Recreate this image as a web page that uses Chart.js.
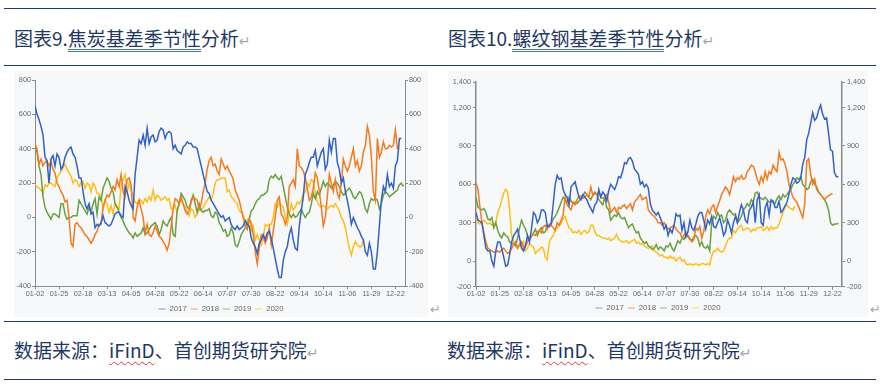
<!DOCTYPE html>
<html>
<head>
<meta charset="utf-8">
<script src="https://cdn.jsdelivr.net/npm/chart.js@4.4.1/dist/chart.umd.min.js"></script>
<style>
  body { margin: 0; width: 880px; height: 388px; background: #fff; position: relative; overflow: hidden;
         font-family: "Noto Sans CJK SC", sans-serif; color: #1f3864; }
  .hr { position: absolute; left: 4px; width: 872px; height: 1px; background: #1f3b66; }
  .title, .src { position: absolute; font-size: 19px; line-height: 19px; white-space: nowrap; }
  .ul { display: inline-block; line-height: 19px; padding-bottom: 2px; border-bottom: 3px double #4a72cc; }
  .wavy { text-decoration: underline wavy #e03a3a; text-decoration-thickness: 1px; text-underline-offset: 3px; }
  .ret { color: #a6a6a6; font-size: 14px; font-family: "DejaVu Sans", sans-serif; }
  .panel { position: absolute; top: 70px; height: 247px; background: #f7f8fa; }
  canvas { position: absolute; }
  .mark { position: absolute; color: #a6a6a6; font-size: 13px; font-family: "DejaVu Sans", sans-serif; }
</style>
</head>
<body>
<div class="hr" style="top:8px"></div>
<div class="hr" style="top:65px"></div>
<div class="hr" style="top:321px"></div>
<div class="hr" style="top:379px"></div>

<div class="title" style="left:14px;top:28px">图表9.<span class="ul">焦炭基差季节性</span>分析<span class="ret">↵</span></div>
<div class="title" style="left:448px;top:28px">图表10.<span class="ul">螺纹钢基差季节性</span>分析<span class="ret">↵</span></div>

<div class="panel" style="left:14px;width:414px"></div>
<div class="panel" style="left:448px;width:420px"></div>
<canvas id="cokeChart" width="414" height="253" style="left:14px;top:70px"></canvas>
<canvas id="rebarChart" width="420" height="252" style="left:448px;top:70px"></canvas>
<div class="mark" style="left:430px;top:302px">↵</div>
<div class="mark" style="left:870px;top:302px">↵</div>

<div class="src" style="left:14px;top:340px">数据来源：<span class="wavy">iFinD</span>、首创期货研究院<span class="ret">↵</span></div>
<div class="src" style="left:447px;top:340px">数据来源：<span class="wavy">iFinD</span>、首创期货研究院<span class="ret">↵</span></div>

<script>
// x轴每12个点一个日期标签
const dateLabels = ['01-02','01-25','02-18','03-13','04-05','04-28','05-22','06-14',
                    '07-07','07-30','08-22','09-14','10-14','11-06','11-29','12-22'];
const years = ['2017', '2018', '2019', '2020'];
const cokeTicks = [-400, -200, 0, 200, 400, 600, 800];
const rebarTicks = [-200, 0, 300, 600, 900, 1200, 1400];

// 焦炭基差
const coke2017 = [650,600,570,530,480,350,330,200,340,360,
  300,370,350,280,300,350,380,400,410,370,
  350,300,230,230,150,80,50,80,20,30,
  -60,-40,-50,-30,10,-30,-40,-50,-40,-10,
  20,30,30,10,0,180,150,100,70,50,
  250,350,450,430,480,420,520,430,470,480,
  440,450,500,520,510,460,490,500,490,400,
  420,390,380,370,410,420,440,430,430,410,
  410,400,350,300,250,200,150,140,100,80,
  60,40,20,0,10,-20,-10,0,-40,-60,
  -70,-50,-70,-60,-50,-20,-40,-50,-120,-150,
  -170,-210,-150,-130,-100,-130,-90,-80,-120,-180,
  -240,-300,-350,-350,-250,-200,-170,-100,-60,-130,
  -180,-190,-50,40,120,250,280,320,350,350,
  390,300,340,380,400,280,310,450,380,460,
  460,320,280,200,230,150,100,40,-40,0,
  -30,-60,-80,-110,-130,-200,-220,-150,-200,-300,
  -300,-200,-50,100,180,150,250,180,200,170,
  300,330,460,460];
const coke2018 = [430,400,310,340,300,320,330,300,330,280,
  260,200,180,150,130,90,100,0,-150,-170,
  -40,-30,-50,-60,-80,-100,-110,-130,-150,-130,
  -100,-80,-40,-40,60,100,130,120,150,180,
  160,220,180,250,150,120,220,230,190,0,
  -20,60,100,50,0,-90,-40,-100,-110,-90,
  -50,-80,-110,-120,-140,-160,-190,-150,-50,50,
  110,100,80,120,80,40,20,40,90,120,
  110,100,50,80,150,200,280,330,350,300,
  310,270,250,340,310,280,300,270,250,220,
  160,130,100,50,0,-50,-70,-10,-30,-100,
  -200,-270,-180,-100,-110,-150,-120,-60,-160,-80,
  0,100,120,20,0,-40,0,180,200,220,
  180,400,300,290,270,230,170,100,120,170,
  260,230,150,60,-50,0,120,250,200,150,
  220,140,110,200,340,300,270,300,350,400,
  300,330,270,300,380,420,530,480,350,150,
  100,460,350,380,440,400,400,420,410,420,
  510,400,400];
const coke2019 = [410,380,300,250,120,60,30,10,-10,20,
  20,10,0,80,80,20,-10,0,0,10,
  10,10,100,80,60,40,20,60,30,80,
  110,20,120,100,170,200,230,210,170,150,
  80,60,30,0,-20,-50,-70,-90,-100,-120,
  -90,-110,-100,-90,-60,-100,-90,-70,-50,-40,
  -30,-50,-100,-70,-20,-40,-50,-20,0,-100,
  -110,40,80,140,120,100,60,50,100,130,
  80,30,80,40,30,40,40,50,10,0,
  30,20,-30,-50,-80,-70,-110,-100,-60,-90,
  -160,-170,-140,-100,-80,-60,-30,-10,40,50,
  80,100,110,130,130,140,150,220,240,230,
  250,230,220,240,180,120,60,20,0,20,
  0,10,30,50,20,0,20,30,80,140,
  110,150,130,170,210,180,200,190,170,190,
  210,200,180,150,130,140,160,170,150,120,
  110,130,150,140,100,50,30,80,110,100,
  110,100,50,80,130,150,140,120,130,140,
  150,160,190,200,180];
const coke2020 = [190,180,170,160,140,190,180,200,200,190,
  180,230,250,270,290,310,280,260,240,200,
  220,210,180,200,210,170,200,190,150,200,
  180,140,140,120,50,100,80,30,70,20,
  80,60,50,180,220,250,150,200,160,120,
  90,80,100,100,80,110,90,120,100,160,
  100,130,120,100,110,120,100,110,50,50,
  70,30,80,100,80,60,30,10,50,40,
  0,20,50,40,60,80,100,120,100,140,
  200,220,220,230,230,230,150,160,120,110,
  90,80,40,30,10,-20,-10,-10,-80,-50,
  -130,-100,-130,-160,-120,-40,-50,-40,-40,0,
  80,60,90,70,60,0,-40,20,80,40,
  60,90,80,100,140,150,200,180,220,210,
  140,90,70,60,70,60,50,60,70,60,
  80,60,40,0,-20,-60,-120,-180,-220,-170,
  -140,-160,-170,-170,-130];

// 螺纹钢基差
const rebar2017 = [380,320,310,300,200,100,80,80,0,-40,
  80,150,150,100,30,-40,-30,50,150,200,
  220,250,180,100,80,120,200,150,250,380,
  360,300,330,400,400,380,270,270,300,450,
  600,670,640,650,560,520,500,440,580,600,
  620,560,500,480,520,500,480,440,410,380,
  440,460,560,500,540,520,470,550,600,580,
  560,600,660,650,700,770,760,800,810,780,
  720,700,680,600,620,580,600,570,450,400,
  380,360,380,340,300,250,280,200,250,220,
  280,370,350,360,240,300,190,230,320,260,
  240,290,350,380,380,320,250,320,290,350,
  270,260,300,340,280,200,230,320,280,220,
  300,350,300,380,440,400,320,300,400,420,
  460,300,480,520,300,280,420,460,360,480,
  470,420,420,470,380,400,430,460,520,600,
  650,640,610,620,650,760,810,950,1000,1080,
  1160,1100,1120,1180,1220,1150,1110,1120,1000,870,
  860,690,660,660];
const rebar2018 = [610,560,420,300,220,150,100,90,80,70,
  70,80,70,90,100,80,60,70,100,130,
  150,100,130,150,100,120,150,180,200,210,
  200,230,240,220,270,280,250,290,280,260,
  240,300,280,320,360,500,440,420,400,460,
  440,480,500,510,490,500,520,500,580,510,
  530,520,540,500,490,500,520,460,380,400,
  420,380,420,410,430,440,410,430,450,400,
  460,480,500,520,480,490,500,400,380,360,
  350,330,300,300,280,300,270,250,260,270,
  280,250,230,220,180,200,230,200,180,150,
  170,260,240,270,180,230,350,400,370,420,
  440,380,430,470,520,550,580,560,520,580,
  660,620,650,640,670,640,650,700,720,750,
  740,700,640,600,660,620,700,640,700,680,
  750,720,700,850,790,800,760,700,600,550,
  500,480,460,420,380,340,450,780,800,680,
  600,640,560,540,520,500,480,500,510,520,
  530];
const rebar2019 = [500,420,410,400,410,380,330,320,340,260,
  300,240,200,180,220,200,190,150,140,130,
  120,180,260,320,280,250,200,170,190,220,
  250,200,240,260,220,230,280,270,290,330,
  350,380,420,460,500,480,460,500,470,450,
  460,450,470,490,510,540,520,500,480,520,
  540,520,480,460,440,500,420,400,320,340,
  360,350,380,340,330,340,300,260,280,290,
  250,220,230,180,160,140,150,120,110,90,
  100,130,90,110,100,80,120,110,140,100,
  80,120,160,140,180,170,200,190,170,160,
  190,200,180,120,150,110,100,120,80,300,
  350,330,380,350,360,300,320,380,400,380,
  360,370,300,320,350,400,420,450,430,480,
  460,530,540,500,490,480,500,480,460,470,
  460,450,490,510,480,520,500,520,540,560,
  600,620,650,640,660,600,580,560,570,620,
  640,600,580,540,520,500,480,450,400,300,
  280,290,290,295];
const rebar2020 = [320,300,290,310,320,300,290,300,280,290,
  300,380,420,480,530,560,540,400,200,150,
  120,100,130,110,150,80,100,140,120,110,
  60,80,90,110,100,30,10,150,180,200,
  240,260,280,290,330,350,300,260,250,220,
  230,220,240,210,230,240,220,230,280,280,
  230,200,200,190,180,180,170,180,160,170,
  180,210,170,160,150,150,160,140,150,160,
  170,140,150,130,140,120,110,100,110,120,
  80,70,60,40,50,30,30,20,40,20,
  30,0,20,30,0,10,-20,-30,-20,-30,
  -30,-20,-30,-30,-20,-20,-30,-20,-30,40,
  80,80,100,80,70,80,120,160,180,180,
  240,220,250,270,280,240,250,260,250,230,
  250,240,260,260,270,240,250,270,240,270,
  250,260,260,290,330,380,420,440,420,410,
  400,430];

const lineColors = ['#3461c7', '#f57a1e', '#68a042', '#fcc018'];
const legendColors = ['#a3b9ea', '#f9bc90', '#b1d39c', '#fde38f'];

Chart.defaults.font.family = "'Liberation Sans', Arial, sans-serif";

function toPoints(values) {
  return values.map((v, i) => ({ x: i, y: v }));
}

function drawSeasonChart(id, series, yTicks, box) {
  const yAxis = (pos, w) => ({
    type: 'linear',
    position: pos,
    min: yTicks[0],
    max: yTicks[yTicks.length - 1],
    afterBuildTicks: s => { s.ticks = yTicks.map(v => ({ value: v })); },
    afterFit: s => { s.width = w; },
    grid: { drawOnChartArea: false, tickLength: 3, color: '#8a8a8a' },
    border: { color: '#8a8a8a', width: box.axisWidth },
    ticks: { color: '#666', font: { size: 7.3 }, padding: box.labelPad,
             callback: v => v.toLocaleString('en-US') }
  });

  new Chart(document.getElementById(id), {
    type: 'line',
    data: {
      datasets: series.map((vals, k) => ({
        label: years[k],
        data: toPoints(vals),
        borderColor: lineColors[k],
        borderWidth: 1.5,
        pointRadius: 0,
        tension: 0
      }))
    },
    options: {
      responsive: false,
      animation: false,
      layout: { padding: { top: box.top, left: 0, right: 0, bottom: 0 } },
      scales: {
        x: {
          type: 'linear',
          min: 0,
          max: 184.8,
          afterFit: s => { s.height = box.xh; },
          grid: { drawOnChartArea: false, tickLength: 3, color: '#8a8a8a' },
          border: { color: '#8a8a8a', width: 1 },
          ticks: { stepSize: 12, autoSkip: false, maxRotation: 0, includeBounds: false, padding: 0,
                   color: '#666', font: { size: 7.3 }, callback: v => dateLabels[v / 12] }
        },
        y: yAxis('left', box.yl),
        y2: yAxis('right', box.yr)
      },
      plugins: {
        legend: {
          position: 'bottom',
          labels: {
            usePointStyle: true,
            pointStyle: 'line',
            pointStyleWidth: 7,
            boxHeight: 8,
            padding: 4,
            color: '#666',
            font: { size: 7.8 },
            generateLabels: () => years.map((y, k) => ({
              text: y, strokeStyle: legendColors[k], fillStyle: legendColors[k],
              lineWidth: 1.5, pointStyle: 'line', datasetIndex: k, fontColor: '#666'
            }))
          }
        },
        tooltip: { enabled: false }
      }
    }
  });
}

drawSeasonChart('cokeChart', [coke2017, coke2018, coke2019, coke2020], cokeTicks,
  { top: 10, yl: 21, yr: 23, xh: 15, labelPad: 1, axisWidth: 1 });
drawSeasonChart('rebarChart', [rebar2017, rebar2018, rebar2019, rebar2020], rebarTicks,
  { top: 12, yl: 28, yr: 26, xh: 13.5, labelPad: 2, axisWidth: 1.5 });
</script>
</body>
</html>
